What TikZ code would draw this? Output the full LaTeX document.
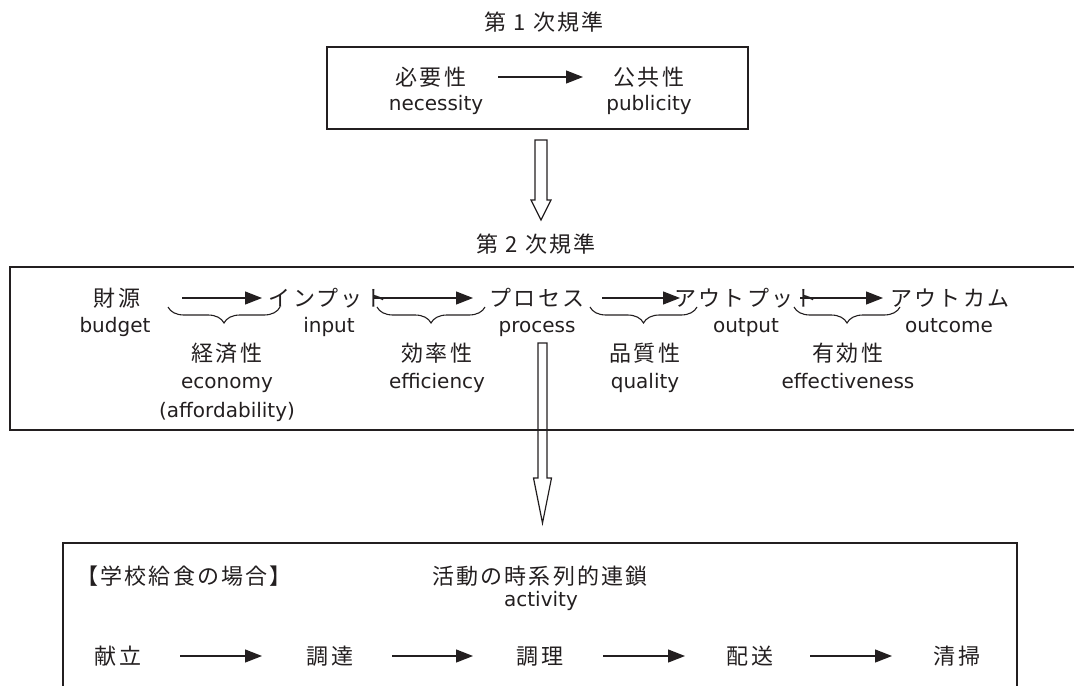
\documentclass[tikz,border=0pt]{standalone}
\usepackage{fontspec}
\setmainfont{DejaVu Sans}
\newfontfamily\jp{Noto Sans CJK JP}[LetterSpace=10]
\usetikzlibrary{arrows.meta,decorations.pathreplacing}
\definecolor{ink}{HTML}{231F20}

\begin{document}
\begin{tikzpicture}[x=0.5pt,y=-0.5pt,
  font=\fontsize{10}{12}\selectfont,text=ink,
  en/.style={inner sep=0pt,text height=7.5pt,text depth=2.3pt},
  ja/.style={inner sep=0pt,text height=9.6pt,text depth=1.2pt,font=\jp\fontsize{11}{13}\selectfont},
  frame/.style={draw=ink,line width=0.8pt},
  a/.style={-{Triangle[length=8.5pt,width=6.5pt]},draw=ink,line width=0.6pt},
  brc/.style={decorate,decoration={brace,mirror,amplitude=8pt},draw=ink,line width=0.55pt},
  hollow/.style={draw=ink,line width=0.6pt}]
\useasboundingbox (0,0) rectangle (1074,685);
\clip (0,0) rectangle (1074,685);

\node[ja] (t1) at (544,22) {第 1 次規準};
\node[frame,minimum width=210.5pt,minimum height=41pt] (lvl1) at (537.5,88) {};
\node[ja] (need) at (431,77) {必要性};
\node[en] (needE) at (436,105) {necessity};
\node[ja] (pub) at (649,77) {公共性};
\node[en] (pubE) at (649,105) {publicity};
\draw[a] ([xshift=33.5pt]need.center) -- ([xshift=-33pt]pub.center);

\coordinate (d1) at (541,140);
\coordinate (d1tip) at (541,220);
\draw[hollow] ([xshift=-3pt]d1) -- ++(0,60) -- ++(-4,0) -- (d1tip) -- ++(10,-20) -- ++(-4,0) -- ([xshift=3pt]d1) -- cycle;

\node[ja] (t2) at (536,244) {第 2 次規準};
\draw[frame] (1090,267) -| (10,430) -- (1090,430);
\node[ja] (fund) at (117,298) {財源};
\node[en] (fundE) at (115,327) {budget};
\node[ja] (inp) at (328,298) {インプット};
\node[en] (inpE) at (329,327) {input};
\node[ja] (proc) at (537,298) {プロセス};
\node[en] (procE) at (537,327) {process};
\node[ja] (outp) at (746,298) {アウトプット};
\node[en] (outpE) at (746,327) {output};
\node[ja] (outc) at (950,298) {アウトカム};
\node[en] (outcE) at (949,327) {outcome};
\draw[a] ([xshift=32.5pt]fund.center) -- ([xshift=-33pt]inp.center);
\draw[a] ([xshift=22.5pt]inp.center) -- ([xshift=-32pt]proc.center);
\draw[a] ([xshift=32.5pt]proc.center) -- ([xshift=-33pt]outp.center);
\draw[a] ([xshift=27pt]outp.center) -- ([xshift=-33.5pt]outc.center);
\draw[brc] (168,307) -- (280,307);
\draw[brc] (377,307) -- (485,307);
\draw[brc] (590,307) -- (697,307);
\draw[brc] (794,307) -- (900,307);
\node[ja] (eco) at (227,353) {経済性};
\node[en] (ecoE) at (227,383) {economy};
\node[en] (ecoA) at (227,412) {(affordability)};
\node[ja] (eff) at (437,353) {効率性};
\node[en] (effE) at (437,383) {efficiency};
\node[ja] (qual) at (645,353) {品質性};
\node[en] (qualE) at (645,383) {quality};
\node[ja] (efv) at (848,353) {有効性};
\node[en] (efvE) at (848,383) {effectiveness};

\coordinate (d2) at (542.5,343);
\coordinate (d2tip) at (542.5,523);
\draw[hollow] ([xshift=-2.25pt]d2) -- ++(0,135) -- ++(-4.5,0) -- (d2tip) -- ++(9,-45) -- ++(-4.5,0) -- ([xshift=2.25pt]d2) -- cycle;

\draw[frame] (63,700) |- (1017,543) -- (1017,700);
\node[ja,anchor=west] (case) at (76,576) {【学校給食の場合】};
\node[ja] (chain) at (540,576) {活動の時系列的連鎖};
\node[en] (chainE) at (541,601) {activity};
\node[ja] (menu) at (118,656) {献立};
\node[ja] (buy) at (330,656) {調達};
\node[ja] (cook) at (540,656) {調理};
\node[ja] (ship) at (750,656) {配送};
\node[ja] (clean) at (957,656) {清掃};
\draw[a] ([xshift=31pt]menu.center) -- ([xshift=-34pt]buy.center);
\draw[a] ([xshift=31pt]buy.center) -- ([xshift=-33.5pt]cook.center);
\draw[a] ([xshift=31.5pt]cook.center) -- ([xshift=-32.5pt]ship.center);
\draw[a] ([xshift=30pt]ship.center) -- ([xshift=-32.5pt]clean.center);
\end{tikzpicture}
\end{document}
